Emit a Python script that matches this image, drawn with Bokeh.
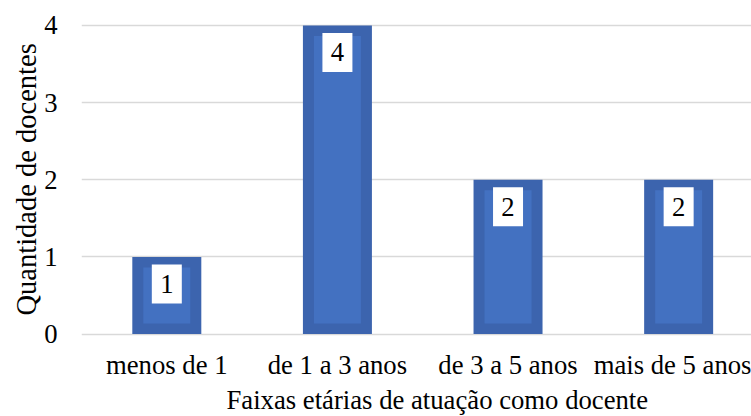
from bokeh.plotting import figure
from bokeh.models import FixedTicker, Range1d, Title
from bokeh.core.properties import value
from bokeh.embed import file_html
from bokeh.resources import INLINE

# Number of teachers per range of years working as a teacher
categories = ["menos de 1", "de 1 a 3 anos", "de 3 a 5 anos", "mais de 5 anos"]
counts = [1, 4, 2, 2]
y_ticks = [0, 1, 2, 3, 4]
x_title = "Faixas etárias de atuação como docente"
y_title = "Quantidade de docentes"

FONT = "Liberation Serif"
SIZE = "26.7px"
OUTER = "#3c64ae"
INNER = "#4371c1"

W, H = 751, 416
LEFT, BOTTOM = 81, 76
FRAME_H = H - BOTTOM
Y0, Y1 = -0.084, 4.324
X0, X1 = -0.5, 3.427
ppu_y = FRAME_H / (Y1 - Y0)
ppu_x = (W - LEFT) / (X1 - X0)

xs = list(range(len(categories)))

p = figure(width=W, height=H, output_backend="svg", toolbar_location=None,
           x_range=Range1d(X0, X1), y_range=Range1d(Y0, Y1),
           min_border_left=LEFT, min_border_right=0,
           min_border_top=0, min_border_bottom=BOTTOM)
p.outline_line_color = None
p.background_fill_color = "white"
p.border_fill_color = "white"

# bars: darker outer body with a lighter inset face
bar_w = 69 / ppu_x
inset_x = 11 / ppu_x
inset_y = 10.5 / ppu_y
p.vbar(x=xs, top=counts, bottom=0, width=bar_w, fill_color=OUTER, line_color=None)
p.vbar(x=xs, top=[c - inset_y for c in counts], bottom=inset_y,
       width=bar_w - 2 * inset_x, fill_color=INNER, line_color=None)

# value labels in white boxes near the top of each bar
box_off = 27
p.rect(x=xs, y=[c - box_off / ppu_y for c in counts], width=30, height=39,
       width_units="screen", height_units="screen",
       fill_color="white", line_color=None)
p.text(x=xs, y=counts, text=[str(c) for c in counts], y_offset=box_off,
       text_align="center", text_baseline="middle",
       text_font=value(FONT), text_font_size=SIZE, text_color="black")

# axes
p.xaxis.ticker = FixedTicker(ticks=xs)
p.xaxis.major_label_overrides = {i: c for i, c in zip(xs, categories)}
p.yaxis.ticker = FixedTicker(ticks=y_ticks)
for ax in (p.xaxis[0], p.yaxis[0]):
    ax.axis_line_color = None
    ax.major_tick_line_color = None
    ax.minor_tick_line_color = None
    ax.major_tick_out = 0
    ax.major_tick_in = 0
    ax.major_label_text_font = FONT
    ax.major_label_text_font_size = SIZE
    ax.major_label_text_color = "black"
p.xaxis.major_label_standoff = 9
p.yaxis.major_label_standoff = 24

# axis titles as side-panel titles, placed along their panels
p.add_layout(Title(text=x_title, align="left", offset=145, standoff=0,
                   text_font=FONT, text_font_size=SIZE,
                   text_font_style="normal", text_color="black"), "below")
p.add_layout(Title(text=y_title, align="left", offset=25, standoff=0,
                   text_font=FONT, text_font_size="28.5px",
                   text_font_style="normal", text_color="black"), "left")

p.xgrid.grid_line_color = None
p.ygrid.ticker = FixedTicker(ticks=y_ticks)
p.ygrid.grid_line_color = "#d9d9d9"
p.ygrid.grid_line_width = 1.5

open("out.html", "w").write(file_html(p, INLINE))
